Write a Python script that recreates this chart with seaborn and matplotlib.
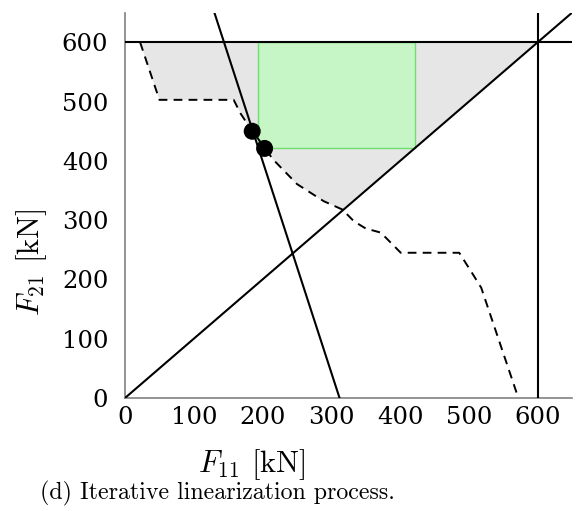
import numpy as np
import pandas as pd
import matplotlib
matplotlib.use("Agg")
import matplotlib.pyplot as plt
import seaborn as sns

# ---- data ----
dash_x = [22, 50, 158, 168, 185, 205, 214, 250, 289, 316, 333, 350, 372, 401, 486, 503, 518, 572]
dash_y = [600, 503, 503, 480, 450, 420, 404, 361, 332, 318, 298, 286, 279, 245, 245, 214, 186, 0]
diag_x = [0, 650]
diag_y = [0, 650]
steep_x = [130, 312]
steep_y = [650, 0]
hline_x = [0, 650]
hline_y = [600, 600]
vline_x = [600, 600]
vline_y = [0, 650]
rect_x = [193, 421]
rect_y = [421, 600]
pts_x = [185, 203]
pts_y = [450, 421]
corner = (600, 600)
ticks = [0, 100, 200, 300, 400, 500, 600]

sns.set_style("white")
plt.rcParams["mathtext.fontset"] = "cm"
plt.rcParams["axes.formatter.use_mathtext"] = True
plt.rcParams["text.color"] = "black"
plt.rcParams["axes.labelcolor"] = "black"
plt.rcParams["xtick.labelcolor"] = "black"
plt.rcParams["ytick.labelcolor"] = "black"

fig = plt.figure(figsize=(5.81, 5.11), dpi=100)
ax = fig.add_axes([125/581, 1-398/511, (572-125)/581, (398-12.7)/511])

# gray feasible region: dashed curve up to diagonal crossing, diagonal, top line
k = 10  # points of dashed curve above the diagonal
gx = list(dash_x[:k]) + [corner[0]]
gy = list(dash_y[:k]) + [corner[1]]
ax.fill(gx, gy, color="#e6e6e6", lw=0, zorder=1)

# green rectangle
ax.fill([rect_x[0], rect_x[1], rect_x[1], rect_x[0]],
        [rect_y[0], rect_y[0], rect_y[1], rect_y[1]],
        facecolor="#c6f5c6", edgecolor="#6fe06f", lw=1.0, zorder=2)

lw = 1.5
dash_df = pd.DataFrame({"x": dash_x, "y": dash_y})
sns.lineplot(data=dash_df, x="x", y="y", ax=ax, color="black", lw=1.4, sort=False,
             estimator=None, zorder=3)
ax.lines[-1].set_dashes((4.5, 3.2))

for xs, ys in [(diag_x, diag_y), (steep_x, steep_y), (hline_x, hline_y), (vline_x, vline_y)]:
    sns.lineplot(x=xs, y=ys, ax=ax, color="black", lw=lw, sort=False,
                 estimator=None, zorder=4)

sns.scatterplot(x=pts_x, y=pts_y, ax=ax, color="black", s=150, edgecolor="none", zorder=5)

ax.set_xlim(0, 650)
ax.set_ylim(0, 650)
ax.set_xticks(ticks)
ax.set_yticks(ticks)
ax.set_xticklabels([str(t) for t in ticks], fontfamily="DejaVu Serif", fontsize=17.5, color="black")
ax.set_yticklabels([str(t) for t in ticks], fontfamily="DejaVu Serif", fontsize=17.5, color="black")

for s in ["top", "right"]:
    ax.spines[s].set_visible(False)
for s in ["left", "bottom"]:
    ax.spines[s].set_color("#808080")
    ax.spines[s].set_linewidth(1.2)
ax.tick_params(axis="y", direction="in", length=4, color="#808080", pad=12)
ax.tick_params(axis="x", direction="in", length=0, color="#808080", pad=6)

ax.set_xlabel(r"$F_{11}$ [kN]", fontfamily="cmr10", fontsize=22, color="black")
ax.set_ylabel(r"$F_{21}$ [kN]", fontfamily="cmr10", fontsize=22, color="black")
ax.xaxis.set_label_coords(0.284, -0.174)
ax.yaxis.set_label_coords(-0.209, 0.353)
ax.xaxis.label.set_va("center")
ax.yaxis.label.set_va("center")

fig.text(40/581, 1-493/511, "(d) Iterative linearization process.", fontfamily="cmr10",
         fontsize=17.2, va="center", ha="left", color="black")

fig.savefig("out.png", dpi=100)
